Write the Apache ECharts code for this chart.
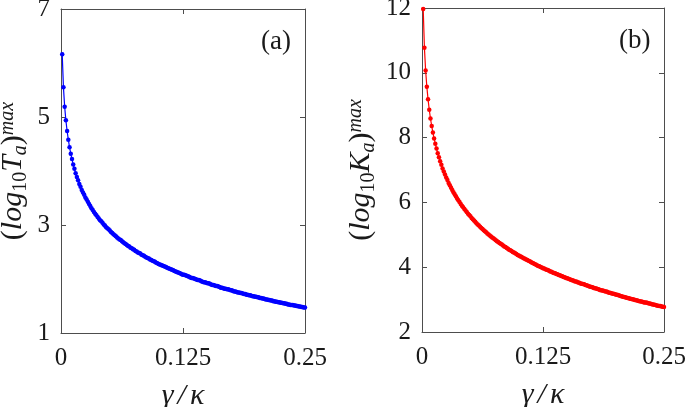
<!DOCTYPE html>
<html>
<head>
<meta charset="utf-8">
<script src="https://cdn.jsdelivr.net/npm/echarts@6/dist/echarts.min.js"></script>
<style>html,body{margin:0;padding:0;background:#fff}#c{width:685px;height:407px}</style>
</head>
<body>
<div id="c"></div>
<script>
// gamma / kappa sample positions
const gamma = [
0.00125,0.0025,0.00375,0.005,0.00625,0.0075,0.00875,0.01,
0.01125,0.0125,0.01375,0.015,0.01625,0.0175,0.01875,0.02,
0.02125,0.0225,0.02375,0.025,0.02625,0.0275,0.02875,0.03,
0.03125,0.0325,0.03375,0.035,0.03625,0.0375,0.03875,0.04,
0.04125,0.0425,0.04375,0.045,0.04625,0.0475,0.04875,0.05,
0.05125,0.0525,0.05375,0.055,0.05625,0.0575,0.05875,0.06,
0.06125,0.0625,0.06375,0.065,0.06625,0.0675,0.06875,0.07,
0.07125,0.0725,0.07375,0.075,0.07625,0.0775,0.07875,0.08,
0.08125,0.0825,0.08375,0.085,0.08625,0.0875,0.08875,0.09,
0.09125,0.0925,0.09375,0.095,0.09625,0.0975,0.09875,0.1,
0.10125,0.1025,0.10375,0.105,0.10625,0.1075,0.10875,0.11,
0.11125,0.1125,0.11375,0.115,0.11625,0.1175,0.11875,0.12,
0.12125,0.1225,0.12375,0.125,0.12625,0.1275,0.12875,0.13,
0.13125,0.1325,0.13375,0.135,0.13625,0.1375,0.13875,0.14,
0.14125,0.1425,0.14375,0.145,0.14625,0.1475,0.14875,0.15,
0.15125,0.1525,0.15375,0.155,0.15625,0.1575,0.15875,0.16,
0.16125,0.1625,0.16375,0.165,0.16625,0.1675,0.16875,0.17,
0.17125,0.1725,0.17375,0.175,0.17625,0.1775,0.17875,0.18,
0.18125,0.1825,0.18375,0.185,0.18625,0.1875,0.18875,0.19,
0.19125,0.1925,0.19375,0.195,0.19625,0.1975,0.19875,0.2,
0.20125,0.2025,0.20375,0.205,0.20625,0.2075,0.20875,0.21,
0.21125,0.2125,0.21375,0.215,0.21625,0.2175,0.21875,0.22,
0.22125,0.2225,0.22375,0.225,0.22625,0.2275,0.22875,0.23,
0.23125,0.2325,0.23375,0.235,0.23625,0.2375,0.23875,0.24,
0.24125,0.2425,0.24375,0.245,0.24625,0.2475,0.24875,0.25
];
// panel (a): (log10 Ta)^max
const logTa = [
6.16,5.55,5.19,4.94,4.74,4.58,4.44,4.32,4.22,4.12,
4.04,3.96,3.89,3.83,3.76,3.71,3.65,3.60,3.56,3.51,
3.47,3.43,3.39,3.35,3.31,3.28,3.24,3.21,3.18,3.15,
3.12,3.09,3.07,3.04,3.01,2.99,2.96,2.94,2.92,2.90,
2.87,2.85,2.83,2.81,2.79,2.77,2.75,2.73,2.72,2.70,
2.68,2.66,2.65,2.63,2.61,2.60,2.58,2.57,2.55,2.54,
2.52,2.51,2.49,2.48,2.47,2.45,2.44,2.43,2.41,2.40,
2.39,2.38,2.36,2.35,2.34,2.33,2.32,2.30,2.29,2.28,
2.27,2.26,2.25,2.24,2.23,2.22,2.21,2.20,2.19,2.18,
2.17,2.16,2.15,2.14,2.13,2.12,2.11,2.10,2.09,2.08,
2.08,2.07,2.06,2.05,2.04,2.03,2.02,2.02,2.01,2.00,
1.99,1.98,1.98,1.97,1.96,1.95,1.94,1.94,1.93,1.92,
1.92,1.91,1.90,1.89,1.89,1.88,1.87,1.87,1.86,1.85,
1.84,1.84,1.83,1.82,1.82,1.81,1.81,1.80,1.79,1.79,
1.78,1.77,1.77,1.76,1.75,1.75,1.74,1.74,1.73,1.72,
1.72,1.71,1.71,1.70,1.70,1.69,1.68,1.68,1.67,1.67,
1.66,1.66,1.65,1.65,1.64,1.64,1.63,1.62,1.62,1.61,
1.61,1.60,1.60,1.59,1.59,1.58,1.58,1.57,1.57,1.56,
1.56,1.55,1.55,1.54,1.54,1.53,1.53,1.52,1.52,1.52,
1.51,1.51,1.50,1.50,1.49,1.49,1.48,1.48,1.47,1.47
];
// panel (b): (log10 Ka)^max
const logKa = [
11.97,10.77,10.07,9.57,9.18,8.86,8.59,8.36,8.16,7.97,
7.81,7.66,7.52,7.39,7.27,7.16,7.05,6.95,6.86,6.77,
6.69,6.60,6.53,6.45,6.38,6.31,6.25,6.19,6.12,6.07,
6.01,5.95,5.90,5.85,5.80,5.75,5.70,5.65,5.61,5.57,
5.52,5.48,5.44,5.40,5.36,5.32,5.29,5.25,5.21,5.18,
5.14,5.11,5.08,5.04,5.01,4.98,4.95,4.92,4.89,4.86,
4.83,4.80,4.78,4.75,4.72,4.70,4.67,4.64,4.62,4.59,
4.57,4.54,4.52,4.50,4.47,4.45,4.43,4.41,4.38,4.36,
4.34,4.32,4.30,4.28,4.26,4.24,4.22,4.20,4.18,4.16,
4.14,4.12,4.10,4.08,4.06,4.04,4.03,4.01,3.99,3.97,
3.96,3.94,3.92,3.91,3.89,3.87,3.86,3.84,3.82,3.81,
3.79,3.78,3.76,3.75,3.73,3.72,3.70,3.69,3.67,3.66,
3.64,3.63,3.61,3.60,3.59,3.57,3.56,3.55,3.53,3.52,
3.50,3.49,3.48,3.47,3.45,3.44,3.43,3.41,3.40,3.39,
3.38,3.36,3.35,3.34,3.33,3.32,3.30,3.29,3.28,3.27,
3.26,3.25,3.24,3.22,3.21,3.20,3.19,3.18,3.17,3.16,
3.15,3.14,3.13,3.11,3.10,3.09,3.08,3.07,3.06,3.05,
3.04,3.03,3.02,3.01,3.00,2.99,2.98,2.97,2.96,2.95,
2.94,2.93,2.92,2.91,2.91,2.90,2.89,2.88,2.87,2.86,
2.85,2.84,2.83,2.82,2.81,2.80,2.80,2.79,2.78,2.77
];
const xTicks = [0, 0.125, 0.25];
const yTicksA = [1, 3, 5, 7];
const yTicksB = [2, 4, 6, 8, 10, 12];
const panelLabels = ['(a)', '(b)'];

const AX = '#4d4d4d';
const TXT = '#1a1a1a';
const SERIF = '"Liberation Serif","Times New Roman",serif';

function xAx(grid, pos, show) {
  return {
    type: 'value', gridIndex: grid, position: pos, min: 0, max: 0.25, interval: 0.125,
    axisLine: {show: true, onZero: false, lineStyle: {color: AX, width: 1}},
    axisTick: {show: true, inside: true, length: 5, lineStyle: {color: AX}},
    splitLine: {show: false},
    axisLabel: {show: show, margin: 13, color: TXT, fontFamily: SERIF, fontSize: 25,
      formatter: v => xTicks.includes(v) ? String(v) : ''},
    name: show ? '{i|γ}{p|/}{i|κ}' : '',
    nameLocation: 'middle', nameGap: 48,
    nameTextStyle: {rich: {
      i: {fontFamily: SERIF, fontStyle: 'italic', fontSize: 30, color: TXT},
      p: {fontFamily: SERIF, fontStyle: 'italic', fontSize: 30, color: TXT, padding: [0, 4, 0, 4]}
    }}
  };
}
function yAx(grid, pos, show, ticks, nameStr, gap) {
  return {
    type: 'value', gridIndex: grid, position: pos, min: ticks[0], max: ticks[ticks.length - 1],
    axisLine: {show: true, onZero: false, lineStyle: {color: AX, width: 1}},
    axisTick: {show: true, inside: true, length: 5, lineStyle: {color: AX}, customValues: ticks},
    splitLine: {show: false},
    axisLabel: {show: show, margin: 11, color: TXT, fontFamily: SERIF, fontSize: 25, customValues: ticks},
    name: show ? nameStr : '',
    nameLocation: 'middle', nameGap: gap,
    nameTextStyle: {
      rich: {
        p: {fontFamily: SERIF, fontSize: 30, color: TXT, lineHeight: 34, verticalAlign: 'middle'},
        i: {fontFamily: SERIF, fontStyle: 'italic', fontSize: 30, color: TXT, lineHeight: 34, verticalAlign: 'middle'},
        s: {fontFamily: SERIF, fontSize: 20, color: TXT, verticalAlign: 'middle', padding: [15, 0, 0, 0]},
        si: {fontFamily: SERIF, fontStyle: 'italic', fontSize: 20, color: TXT, verticalAlign: 'middle', padding: [15, 0, 0, 0]},
        u: {fontFamily: SERIF, fontStyle: 'italic', fontSize: 20, color: TXT, verticalAlign: 'middle', padding: [0, 0, 12, 0]}
      }
    }
  };
}

function pairs(ys) { return gamma.map((g, i) => [g, ys[i]]); }

const chart = echarts.init(document.getElementById('c'), null, {renderer: 'canvas'});
chart.setOption({
  backgroundColor: '#fff',
  animation: false,
  grid: [
    {left: 61, top: 9, width: 244, height: 324, containLabel: false, outerBoundsMode: 'none'},
    {left: 422, top: 8, width: 242, height: 324, containLabel: false, outerBoundsMode: 'none'}
  ],
  xAxis: [xAx(0, 'bottom', true), xAx(0, 'top', false), xAx(1, 'bottom', true), xAx(1, 'top', false)],
  yAxis: [
    yAx(0, 'left', true, yTicksA, '{p|(}{i|log}{s|10}{i|T}{si|a}{p|)}{u|max}', 30),
    yAx(0, 'right', false, yTicksA, '', 0),
    yAx(1, 'left', true, yTicksB, '{p|(}{i|log}{s|10}{i|K}{si|a}{p|)}{u|max}', 43),
    yAx(1, 'right', false, yTicksB, '', 0)
  ],
  series: [
    {type: 'line', xAxisIndex: 0, yAxisIndex: 0, data: pairs(logTa), clip: false,
      symbol: 'circle', symbolSize: 4.5, showSymbol: true, showAllSymbol: true,
      lineStyle: {color: '#0000ff', width: 1.2}, itemStyle: {color: '#0000ff'}},
    {type: 'line', xAxisIndex: 2, yAxisIndex: 2, data: pairs(logKa), clip: false,
      symbol: 'circle', symbolSize: 4.5, showSymbol: true, showAllSymbol: true,
      lineStyle: {color: '#ff0000', width: 1.2}, itemStyle: {color: '#ff0000'}}
  ],
  graphic: [
    {type: 'text', left: 261, top: 28, style: {text: panelLabels[0], font: '27px ' + SERIF, fill: TXT}},
    {type: 'text', left: 619, top: 27, style: {text: panelLabels[1], font: '27px ' + SERIF, fill: TXT}}
  ]
});
</script>
</body>
</html>
